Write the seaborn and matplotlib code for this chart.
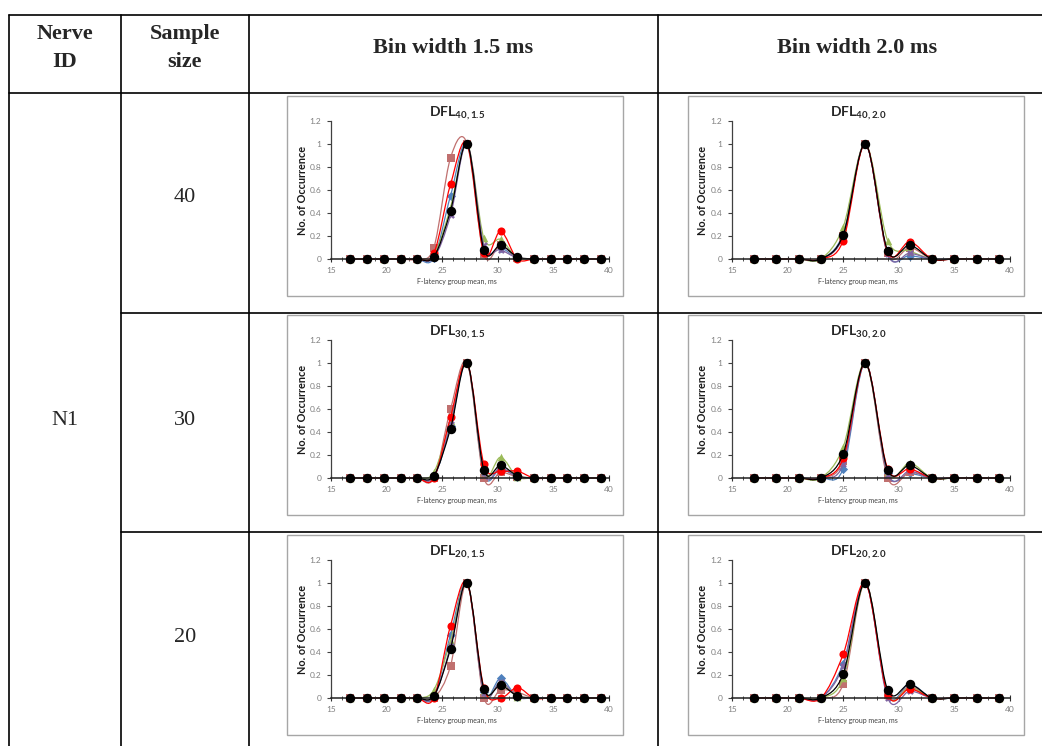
import numpy as np
import pandas as pd
import matplotlib
matplotlib.use("Agg")
import matplotlib.pyplot as plt
import seaborn as sns
from matplotlib.path import Path
from matplotlib.patches import PathPatch, Rectangle
from matplotlib.lines import Line2D
from matplotlib.ticker import MultipleLocator, FuncFormatter

# ---------------------------------------------------------------- data
# bin centres (ms) for the two bin widths
x_bin15 = [16.75, 18.25, 19.75, 21.25, 22.75, 24.25, 25.75, 27.25,
           28.75, 30.25, 31.75, 33.25, 34.75, 36.25, 37.75, 39.25]
x_bin20 = [17, 19, 21, 23, 25, 27, 29, 31, 33, 35, 37, 39]

series_names = ["blue", "brown", "green", "purple", "red", "black"]

# normalised occurrence per bin, one list per repeated draw
DFL40_15 = {
    "blue":   [0, 0, 0, 0, 0, 0.01, 0.55, 1, 0.10, 0.10, 0.01, 0, 0, 0, 0, 0],
    "brown":  [0, 0, 0, 0, 0, 0.10, 0.88, 1, 0.04, 0.12, 0.01, 0, 0, 0, 0, 0],
    "green":  [0, 0, 0, 0, 0, 0.03, 0.45, 1, 0.18, 0.17, 0.01, 0, 0, 0, 0, 0],
    "purple": [0, 0, 0, 0, 0, 0.01, 0.38, 1, 0.12, 0.08, 0.01, 0, 0, 0, 0, 0],
    "red":    [0, 0, 0, 0, 0, 0.05, 0.65, 1, 0.05, 0.24, 0.00, 0, 0, 0, 0, 0],
    "black":  [0, 0, 0, 0, 0, 0.02, 0.42, 1, 0.08, 0.12, 0.02, 0, 0, 0, 0, 0],
}
DFL40_20 = {
    "blue":   [0, 0, 0, 0, 0.22, 1, 0.05, 0.03, 0, 0, 0, 0],
    "brown":  [0, 0, 0, 0, 0.20, 1, 0.05, 0.10, 0, 0, 0, 0],
    "green":  [0, 0, 0, 0, 0.28, 1, 0.16, 0.07, 0, 0, 0, 0],
    "purple": [0, 0, 0, 0, 0.20, 1, 0.04, 0.05, 0, 0, 0, 0],
    "red":    [0, 0, 0, 0, 0.16, 1, 0.06, 0.15, 0, 0, 0, 0],
    "black":  [0, 0, 0, 0, 0.21, 1, 0.07, 0.12, 0, 0, 0, 0],
}
DFL30_15 = {
    "blue":   [0, 0, 0, 0, 0, 0.01, 0.45, 1, 0.03, 0.08, 0.01, 0, 0, 0, 0, 0],
    "brown":  [0, 0, 0, 0, 0, 0.00, 0.60, 1, 0.00, 0.05, 0.01, 0, 0, 0, 0, 0],
    "green":  [0, 0, 0, 0, 0, 0.05, 0.50, 1, 0.05, 0.18, 0.01, 0, 0, 0, 0, 0],
    "purple": [0, 0, 0, 0, 0, 0.01, 0.47, 1, 0.04, 0.09, 0.01, 0, 0, 0, 0, 0],
    "red":    [0, 0, 0, 0, 0, 0.00, 0.53, 1, 0.12, 0.06, 0.06, 0, 0, 0, 0, 0],
    "black":  [0, 0, 0, 0, 0, 0.02, 0.43, 1, 0.07, 0.11, 0.02, 0, 0, 0, 0, 0],
}
DFL30_20 = {
    "blue":   [0, 0, 0, 0, 0.08, 1, 0.04, 0.04, 0, 0, 0, 0],
    "brown":  [0, 0, 0, 0, 0.15, 1, 0.00, 0.05, 0, 0, 0, 0],
    "green":  [0, 0, 0, 0, 0.27, 1, 0.05, 0.13, 0, 0, 0, 0],
    "purple": [0, 0, 0, 0, 0.12, 1, 0.03, 0.06, 0, 0, 0, 0],
    "red":    [0, 0, 0, 0, 0.17, 1, 0.08, 0.08, 0, 0, 0, 0],
    "black":  [0, 0, 0, 0, 0.21, 1, 0.07, 0.11, 0, 0, 0, 0],
}
DFL20_15 = {
    "blue":   [0, 0, 0, 0, 0, 0.01, 0.55, 1, 0.05, 0.17, 0.01, 0, 0, 0, 0, 0],
    "brown":  [0, 0, 0, 0, 0, 0.00, 0.28, 1, 0.00, 0.07, 0.05, 0, 0, 0, 0, 0],
    "green":  [0, 0, 0, 0, 0, 0.07, 0.50, 1, 0.06, 0.13, 0.01, 0, 0, 0, 0, 0],
    "purple": [0, 0, 0, 0, 0, 0.01, 0.45, 1, 0.04, 0.14, 0.01, 0, 0, 0, 0, 0],
    "red":    [0, 0, 0, 0, 0, 0.00, 0.63, 1, 0.09, 0.00, 0.09, 0, 0, 0, 0, 0],
    "black":  [0, 0, 0, 0, 0, 0.02, 0.43, 1, 0.08, 0.11, 0.02, 0, 0, 0, 0, 0],
}
DFL20_20 = {
    "blue":   [0, 0, 0, 0, 0.30, 1, 0.03, 0.12, 0, 0, 0, 0],
    "brown":  [0, 0, 0, 0, 0.12, 1, 0.03, 0.10, 0, 0, 0, 0],
    "green":  [0, 0, 0, 0, 0.17, 1, 0.03, 0.09, 0, 0, 0, 0],
    "purple": [0, 0, 0, 0, 0.28, 1, 0.00, 0.06, 0, 0, 0, 0],
    "red":    [0, 0, 0, 0, 0.38, 1, 0.03, 0.08, 0, 0, 0, 0],
    "black":  [0, 0, 0, 0, 0.21, 1, 0.07, 0.12, 0, 0, 0, 0],
}

sample_sizes = ["40", "30", "20"]
nerve_id = "N1"
header_labels = ["Nerve\nID", "Sample\nsize", "Bin width 1.5 ms", "Bin width 2.0 ms"]
y_ticks = [0, 0.2, 0.4, 0.6, 0.8, 1.0, 1.2]
x_ticks = [15, 20, 25, 30, 35, 40]

# ---------------------------------------------------------------- style
colors = {"blue": "#4F81BD", "brown": "#C0706F", "green": "#9BBB59",
          "purple": "#8064A2", "red": "#FF0000", "black": "#000000"}
markers = {"blue": "D", "brown": "s", "green": "^", "purple": "X",
           "red": "o", "black": "o"}
msizes = {"blue": 22, "brown": 28, "green": 30, "purple": 24,
          "red": 34, "black": 46}

sns.set_theme(style="white")
plt.rcParams["font.family"] = ["Lato", "DejaVu Sans"]
plt.rcParams["mathtext.fontset"] = "custom"
plt.rcParams["mathtext.rm"] = "Lato"
plt.rcParams["mathtext.bf"] = "Lato:bold"

W, H = 1042, 746
fig = plt.figure(figsize=(W / 100, H / 100), dpi=100)
fig.patch.set_facecolor("white")


def fx(px):
    return px / W


def fy(py):
    return 1 - py / H


def smooth_path(xs, ys):
    """Bezier path through the points, Excel style smoothing."""
    pts = np.column_stack([xs, ys]).astype(float)
    n = len(pts)
    verts = [pts[0]]
    codes = [Path.MOVETO]
    for i in range(n - 1):
        p0 = pts[i - 1] if i > 0 else pts[i]
        p1, p2 = pts[i], pts[i + 1]
        p3 = pts[i + 2] if i + 2 < n else pts[i + 1]
        verts += [p1 + (p2 - p0) / 6, p2 - (p3 - p1) / 6, p2]
        codes += [Path.CURVE4] * 3
    return Path(verts, codes)


def fmt_y(v, _):
    s = f"{v:.1f}"
    return s[:-2] if s.endswith(".0") else s


def draw_panel(bx, by, xs, values, title):
    bw, bh = 336, 200
    box = Rectangle((fx(bx), fy(by + bh)), bw / W, bh / H, transform=fig.transFigure,
                    facecolor="white", edgecolor="#A6A6A6", linewidth=1.0, zorder=-1)
    fig.patches.append(box)

    ax = fig.add_axes([fx(bx + 44), fy(by + 163), 278 / W, 138 / H])
    ax.set_facecolor("none")
    df = pd.DataFrame({"latency": np.repeat([xs], len(series_names), axis=0).ravel(),
                       "occurrence": np.concatenate([values[s] for s in series_names]),
                       "series": np.repeat(series_names, len(xs))})
    for k, s in enumerate(series_names):
        sub = df[df["series"] == s]
        ax.add_patch(PathPatch(smooth_path(sub["latency"], sub["occurrence"]),
                               fill=False, edgecolor=colors[s], linewidth=0.9,
                               clip_on=False, zorder=2 + k * 0.1))
        sns.scatterplot(data=sub, x="latency", y="occurrence", ax=ax, color=colors[s],
                        marker=markers[s], s=msizes[s], linewidth=0, clip_on=False,
                        legend=False, zorder=2.05 + k * 0.1)

    ax.set_xlim(15, 40)
    ax.set_ylim(0, 1.2)
    ax.set_xticks(x_ticks)
    ax.set_yticks(y_ticks)
    ax.xaxis.set_minor_locator(MultipleLocator(1))
    ax.yaxis.set_major_formatter(FuncFormatter(fmt_y))
    for side in ("top", "right"):
        ax.spines[side].set_visible(False)
    ax.spines["left"].set_color("#404040")
    ax.spines["left"].set_linewidth(0.9)
    ax.spines["bottom"].set_color("#202020")
    ax.spines["bottom"].set_linewidth(1.1)
    ax.tick_params(axis="y", which="major", direction="out", length=3, width=0.8,
                   color="#404040", labelsize=6, labelcolor="#7f7f7f", pad=4, left=True)
    ax.tick_params(axis="x", which="major", direction="inout", length=5, width=0.8,
                   color="#303030", labelsize=6, labelcolor="#7f7f7f", pad=3, bottom=True)
    ax.tick_params(axis="x", which="minor", direction="inout", length=3, width=0.6,
                   color="#303030", bottom=True)
    ax.set_xlabel("")
    ax.set_ylabel("")

    cx = bx + bw / 2
    fig.text(fx(cx + 2), fy(by + 17), title, ha="center", va="center",
             fontsize=10, fontweight="bold", color="#262626")
    fig.text(fx(bx + 15), fy(by + 94), "No. of Occurrence", rotation=90,
             ha="center", va="center", fontsize=7.8, fontweight="bold", color="#1a1a1a")
    fig.text(fx(cx + 2), fy(by + 185), "F-latency group mean, ms", ha="center",
             va="center", fontsize=5, color="#404040")


# ---------------------------------------------------------------- table
line_kw = dict(color="black", linewidth=1.2, transform=fig.transFigure)
for y in (15, 93):
    fig.add_artist(Line2D([fx(9), fx(1042)], [fy(y), fy(y)], **line_kw))
for y in (313, 532):
    fig.add_artist(Line2D([fx(121), fx(1042)], [fy(y), fy(y)], **line_kw))
for x in (9, 121, 249, 658):
    fig.add_artist(Line2D([fx(x), fx(x)], [fy(15), fy(746)], **line_kw))

serif = ["Liberation Serif", "DejaVu Serif"]
header_x = [65, 185, 453, 857]
for hx, lab in zip(header_x, header_labels):
    fig.text(fx(hx), fy(48), lab, ha="center", va="center", fontsize=16,
             fontweight="bold", family=serif, linespacing=1.55)

row_y = [197, 420, 638]
for ry, lab in zip(row_y, sample_sizes):
    fig.text(fx(185), fy(ry), lab, ha="center", va="center", fontsize=16, family=serif)
fig.text(fx(65), fy(420), nerve_id, ha="center", va="center", fontsize=16, family=serif)

# ---------------------------------------------------------------- panels
box_tops = [96, 315, 535]
panels = [
    (DFL40_15, DFL40_20, "40"),
    (DFL30_15, DFL30_20, "30"),
    (DFL20_15, DFL20_20, "20"),
]
for top, (v15, v20, n) in zip(box_tops, panels):
    draw_panel(287, top, x_bin15, v15, r"$\mathbf{DFL_{" + n + r",1.5}}$")
    draw_panel(688, top, x_bin20, v20, r"$\mathbf{DFL_{" + n + r",2.0}}$")

fig.savefig("out.png", dpi=100, facecolor="white")
